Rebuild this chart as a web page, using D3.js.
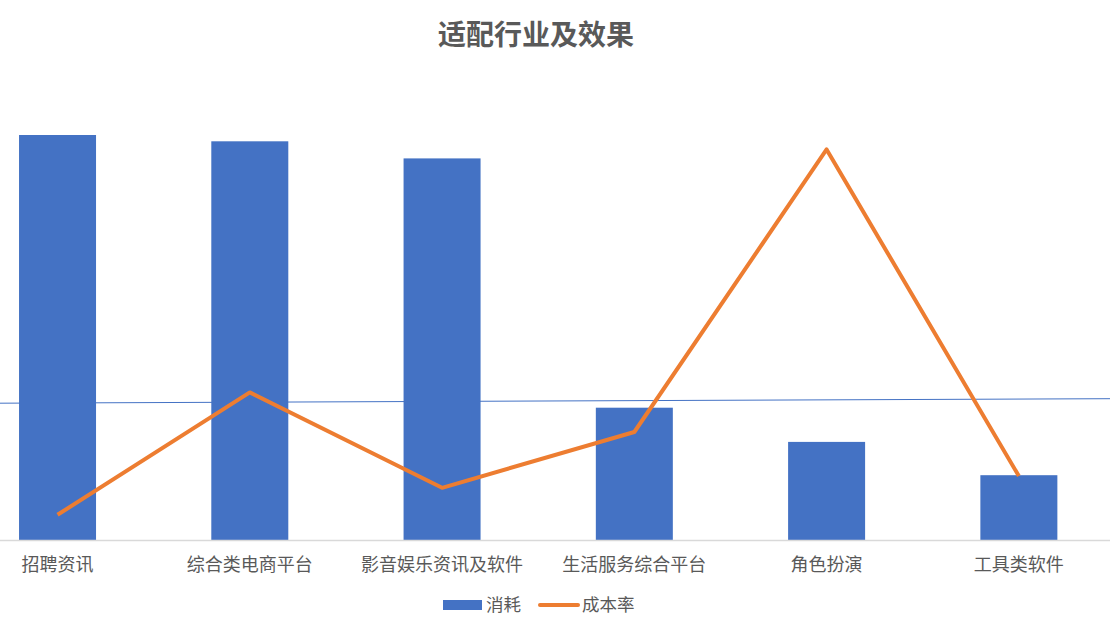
<!DOCTYPE html>
<html><head><meta charset="utf-8">
<script src="https://cdn.jsdelivr.net/npm/d3@7"></script>
<style>body{margin:0;background:#fff;}svg{display:block;font-family:"Noto Sans CJK SC","Noto Sans",sans-serif;}</style>
</head><body><svg id="c" width="1110" height="620"></svg>
<script>
const categories = ["招聘资讯","综合类电商平台","影音娱乐资讯及软件","生活服务综合平台","角色扮演","工具类软件"];
const consumption = [450, 443, 424, 147, 109, 72];
const costRate = [2.8, 16.4, 5.8, 12.0, 43.4, 7.1];
const trendEnds = [152, 157];
const seriesNames = ["消耗","成本率"];
const title = "适配行业及效果";

const svg = d3.select("#c");
const W = 1110, baseY = 540, topY = 90;
const xp = d3.scalePoint().domain(categories).range([-38.6, 1115]).padding(0.5);
const y1 = d3.scaleLinear().domain([0, 500]).range([baseY, topY]);
const y2 = d3.scaleLinear().domain([0, 50]).range([baseY, topY]);

svg.append("text").attr("x", 536).attr("y", 45).attr("text-anchor","middle")
  .attr("font-size", 28).attr("font-weight","bold").attr("fill","#595959").text(title);

// trend line
const tx = d3.scaleLinear().domain([0,1]).range([0, W]);
svg.append("line").attr("x1", tx(0)).attr("x2", tx(1))
  .attr("y1", y1(trendEnds[0])).attr("y2", y1(trendEnds[1]))
  .attr("stroke","#4472C4").attr("stroke-width",1);

const bw = 77;
svg.selectAll("rect.bar").data(consumption).join("rect").attr("class","bar")
  .attr("x",(d,i)=>xp(categories[i]) - bw/2).attr("width", bw)
  .attr("y", d=>y1(d)).attr("height", d=>baseY - y1(d)).attr("fill","#4472C4");

svg.append("line").attr("x1",0).attr("x2",W).attr("y1",baseY+0.5).attr("y2",baseY+0.5)
  .attr("stroke","#d9d9d9").attr("stroke-width",1.5);

const line = d3.line().x((d,i)=>xp(categories[i])).y(d=>y2(d));
svg.append("path").datum(costRate).attr("d", line).attr("fill","none")
  .attr("stroke","#ED7D31").attr("stroke-width",4).attr("stroke-linejoin","round");

svg.selectAll("text.cat").data(categories).join("text").attr("class","cat")
  .attr("x", d=>xp(d)).attr("y", 571).attr("text-anchor","middle")
  .attr("font-size", 18).attr("fill","#595959").text(d=>d);

// legend
const lg = svg.append("g");
lg.append("rect").attr("x",443).attr("y",600).attr("width",39).attr("height",10).attr("fill","#4472C4");
lg.append("text").attr("x",486).attr("y",611).attr("font-size",17.5).attr("fill","#595959").text(seriesNames[0]);
lg.append("line").attr("x1",540).attr("x2",578).attr("y1",605).attr("y2",605).attr("stroke","#ED7D31").attr("stroke-width",4).attr("stroke-linecap","round");
lg.append("text").attr("x",582).attr("y",611).attr("font-size",17.5).attr("fill","#595959").text(seriesNames[1]);
</script></body></html>
